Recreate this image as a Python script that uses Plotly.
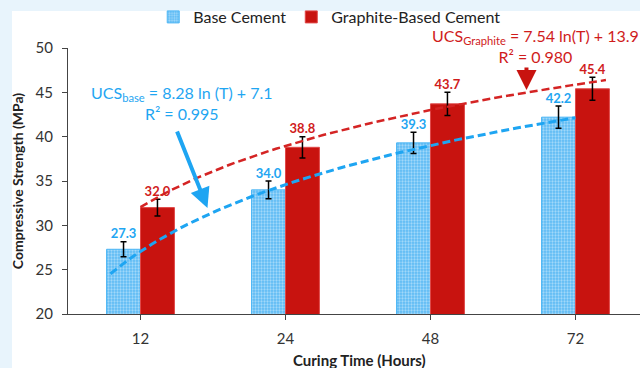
import numpy as np
import plotly.graph_objects as go

# ---- data ----
categories = ["12", "24", "48", "72"]
base_vals = [27.3, 34.0, 39.3, 42.2]
base_err = [0.85, 1.0, 1.2, 1.25]
graph_vals = [32.0, 38.8, 43.7, 45.4]
graph_err = [0.95, 1.2, 1.3, 1.3]
series_names = ["Base Cement", "Graphite-Based Cement"]

# ---- style ----
FONT = "Lato"
BLUE = "#1ea5f2"
BLUE_TXT = "#1fa6f2"
RED = "#c8130f"
RED_TXT = "#d01c1c"
PAGE_BG = "#e8f4fc"
BAR_W = 0.234

idx = np.arange(len(categories))
xb = idx - BAR_W / 2
xg = idx + BAR_W / 2

fig = go.Figure()

fig.add_bar(
    x=xb, y=base_vals, width=BAR_W, name=series_names[0],
    marker=dict(color="#6ec3f5",
                pattern=dict(shape=".", fgcolor="#e6f5fe", bgcolor="#5cbaf4",
                             size=3, solidity=0.45, fillmode="overlay"),
                line=dict(color="#4cb6f5", width=1)),
    error_y=dict(type="data", array=base_err, color="black", thickness=1.5, width=3),
)
fig.add_bar(
    x=xg, y=graph_vals, width=BAR_W, name=series_names[1],
    marker=dict(color=RED, line=dict(color="#e04848", width=1)),
    error_y=dict(type="data", array=graph_err, color="black", thickness=1.5, width=3),
)

# logarithmic trendlines fitted on category position (1..4), like a spreadsheet trendline
pos = idx + 1.0
def logfit(vals):
    a, b = np.polyfit(np.log(pos), np.array(vals), 1)
    return a, b

trend_extent_base = (-0.207, 3.0)
trend_extent_graph = (0.0, 3.21)
for vals, ext, col, w in [(base_vals, trend_extent_base, BLUE, 3),
                          (graph_vals, trend_extent_graph, "#d42424", 2.5)]:
    a, b = logfit(vals)
    tx = np.linspace(ext[0], ext[1], 80)
    ty = a * np.log(tx + 1.0) + b
    fig.add_scatter(x=tx, y=ty, mode="lines", showlegend=False, hoverinfo="skip",
                    line=dict(color=col, width=w, dash="8px,4px"))

# value labels above error bars
fig.add_scatter(x=xb, y=np.array(base_vals) + np.array(base_err), mode="text",
                text=[f"{v:.1f}" for v in base_vals], textposition="top center",
                textfont=dict(family=FONT, size=13, color=BLUE_TXT, weight="bold"),
                showlegend=False, hoverinfo="skip", cliponaxis=False)
fig.add_scatter(x=xg, y=np.array(graph_vals) + np.array(graph_err), mode="text",
                text=[f"{v:.1f}" for v in graph_vals], textposition="top center",
                textfont=dict(family=FONT, size=13, color=RED_TXT, weight="bold"),
                showlegend=False, hoverinfo="skip", cliponaxis=False)

annotations = [
    dict(x=0.286, y=43.8, xref="x", yref="y", showarrow=False, yanchor="middle",
         text="UCS<sub>base</sub> = 8.28 ln (T) + 7.1<br>R² = 0.995",
         font=dict(family=FONT, size=16, color=BLUE_TXT), align="center"),
    dict(x=0.817, y=1.0075, xref="paper", yref="paper", showarrow=False,
         xanchor="center", yanchor="middle",
         text="UCS<sub>Graphite</sub> = 7.54 ln(T) + 13.9<br>R² = 0.980",
         font=dict(family=FONT, size=16, color=RED_TXT), align="center"),
    dict(x=0.462, y=31.96, xref="x", yref="y", text="", showarrow=True,
         ax=-31, ay=-78, arrowhead=2, arrowsize=1, arrowwidth=4, arrowcolor=BLUE),
    dict(x=2.662, y=45.26, xref="x", yref="y", text="", showarrow=True,
         ax=0, ay=-24, arrowhead=2, arrowsize=1, arrowwidth=4, arrowcolor="#c8130f"),
    dict(x=0.509, y=-0.172, xref="paper", yref="paper", showarrow=False,
         text="<b>Curing Time (Hours)</b>", font=dict(family=FONT, size=15, color="#222"),
         yanchor="middle"),
]

fig.update_layout(
    width=640, height=368,
    margin=dict(l=68, r=0, t=48, b=54),
    paper_bgcolor=PAGE_BG, plot_bgcolor="white",
    barmode="overlay",
    font=dict(family=FONT, size=15, color="#333"),
    showlegend=True,
    legend=dict(orientation="h", x=0.149, y=1.117, xanchor="left", yanchor="middle",
                bgcolor="rgba(0,0,0,0)", font=dict(family=FONT, size=16, color="#222"),
                itemwidth=30, traceorder="normal"),
    shapes=[dict(type="rect", xref="paper", yref="paper", x0=-0.0979, x1=1.0,
                 y0=-0.203, y1=1.139, fillcolor="white", line=dict(width=0),
                 layer="below")],
    annotations=annotations,
    xaxis=dict(range=[-0.5, 3.445], tickvals=list(idx), ticktext=categories,
               showline=True, linecolor="#444", linewidth=1, ticks="outside",
               ticklen=5, tickcolor="#444", showgrid=False, zeroline=False,
               ticklabelstandoff=6, tickfont=dict(family=FONT, size=15, color="#333")),
    yaxis=dict(range=[20, 50], tickvals=[20, 25, 30, 35, 40, 45, 50],
               showline=True, linecolor="#444", linewidth=1, ticks="outside",
               ticklen=5, tickcolor="#444", showgrid=False, zeroline=False,
               ticklabelstandoff=6, tickfont=dict(family=FONT, size=15, color="#333"),
               title=dict(text="<b>Compressive Strength (MPa)</b>", standoff=8,
                          font=dict(family=FONT, size=14, color="#222"))),
)

fig.write_html("out.html")
